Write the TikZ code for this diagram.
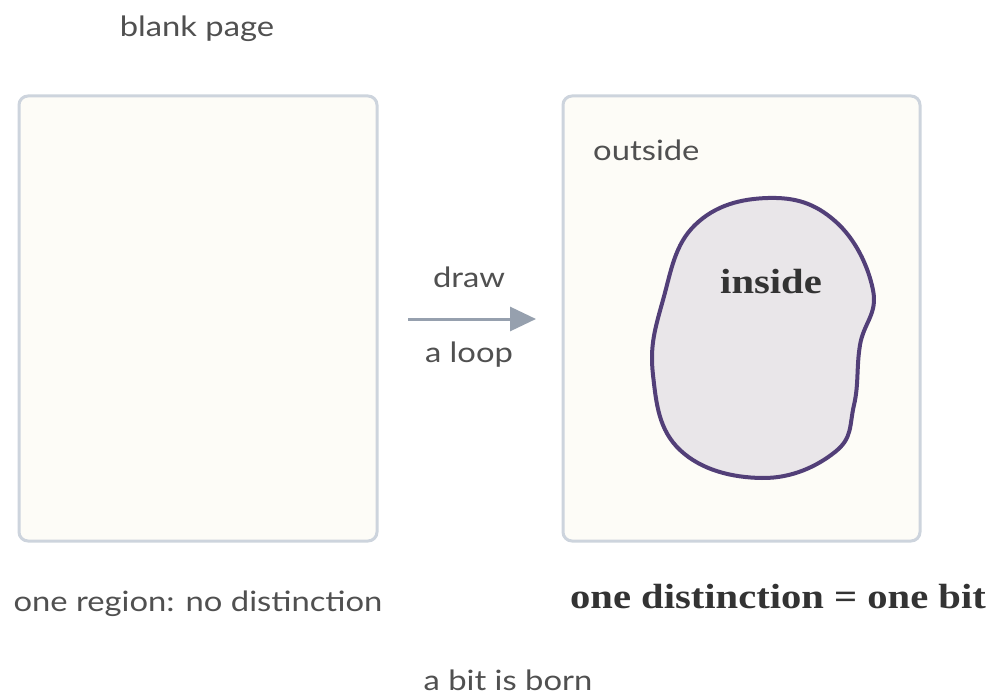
\documentclass[tikz,border=0pt]{standalone}
\usepackage{fontspec}
\newfontfamily\lightsans{Lato}
\newfontfamily\boldserif{Liberation Serif}
\definecolor{boxline}{HTML}{CDD4DD}
\definecolor{boxfill}{HTML}{FDFCF7}
\definecolor{txtgray}{HTML}{505050}
\definecolor{txtdark}{HTML}{333333}
\definecolor{arrowc}{HTML}{96A0AE}
\definecolor{loopc}{HTML}{523F78}
\definecolor{loopfill}{HTML}{E9E6E9}
\usetikzlibrary{arrows.meta}
\newcommand{\wide}[1]{\scalebox{1.17}[1]{#1}}
\newcommand{\wideb}[1]{\scalebox{1.16}[1]{#1}}
\tikzset{
  pagebox/.style={draw=boxline, fill=boxfill, line width=3pt, rounded corners=9pt},
  lighttext/.style={text=txtgray, font=\lightsans\fontsize{28}{32}\selectfont, inner sep=0pt},
  boldtext/.style={text=txtdark, font=\boldserif\bfseries\fontsize{35}{40}\selectfont, inner sep=0pt},
}
\begin{document}
\begin{tikzpicture}[x=1pt,y=-1pt]
\useasboundingbox (0,0) rectangle (991,695);
\fill[white] (0,0) rectangle (991,695);
\draw[pagebox] (19,96) rectangle (377,541);
\draw[pagebox] (563,96) rectangle (920,541);
\node[lighttext] (blank) at (197,29) {\wide{blank page}};
\node[lighttext] (region) at (198,604) {\wide{one region: no distinction}};
\node[lighttext] (draw) at (469,277) {\wide{draw}};
\node[lighttext] (loop) at (469,355) {\wide{a loop}};
\node[lighttext, anchor=west] (outside) at (593,150) {\wide{outside}};
\coordinate (a0) at (408,319);
\coordinate (a1) at (536,319);
\draw[arrowc, line width=3pt, -{Triangle[length=26pt,width=24pt]}] (a0) -- (a1);
\draw[loopc, fill=loopfill, line width=4pt] plot[smooth cycle, tension=0.7] coordinates {
  (768,198) (835,221) (873,290) (860,345) (854,405) (835,452) (762,478) (680,450) (653,375) (663,300) (695,225)};
\node[boldtext] (inside) at (771,282) {\wideb{inside}};
\node[boldtext] (bit) at (778,597) {\wideb{one distinction = one bit}};
\node[lighttext] (born) at (508,680) {\wide{a bit is born}};
\end{tikzpicture}
\end{document}
